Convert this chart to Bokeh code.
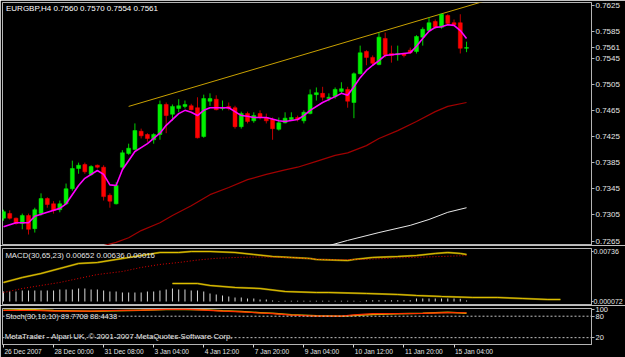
from bokeh.plotting import figure
from bokeh.layouts import column
from bokeh.models import Range1d, FixedTicker, Span, ColumnDataSource, LinearAxis
from bokeh.core.properties import value
from bokeh.embed import file_html
from bokeh.resources import INLINE

# ---------------- data ----------------
title_text = "EURGBP,H4  0.7560 0.7570 0.7554 0.7561"
macd_text = "MACD(30,65,23) 0.00652 0.00636 0.00016"
stoch_text = "Stoch(30,10,10) 89.7708 88.4438"
copyright_text = "MetaTrader - Alpari UK, \u00a9 2001-2007 MetaQuotes Software Corp."
last_price = 0.7561
last_price_label = "0.7561"

opens = [0.7300, 0.7307, 0.7300, 0.7292, 0.7304, 0.7284, 0.7307, 0.7330, 0.7322, 0.7313,
         0.7322, 0.7345, 0.7376, 0.7382, 0.7367, 0.7381, 0.7378, 0.7335, 0.7322, 0.7378,
         0.7399, 0.7405, 0.7433, 0.7428, 0.7420, 0.7428, 0.7474, 0.7459, 0.7468, 0.7471,
         0.7472, 0.7469, 0.7425, 0.7479, 0.7482, 0.7468, 0.7471, 0.7469, 0.7440, 0.7460,
         0.7449, 0.7460, 0.7454, 0.7451, 0.7436, 0.7446, 0.7451, 0.7454, 0.7449, 0.7460,
         0.7489, 0.7491, 0.7483, 0.7486, 0.7494, 0.7497, 0.7477, 0.7521, 0.7555, 0.7546,
         0.7535, 0.7575, 0.7552, 0.7550, 0.7552, 0.7557, 0.7555, 0.7577, 0.7587, 0.7601,
         0.7592, 0.7610, 0.7599, 0.7599, 0.7560]
highs = [0.7313, 0.7312, 0.7301, 0.7307, 0.7307, 0.7316, 0.7338, 0.7332, 0.7326, 0.7327,
         0.7353, 0.7388, 0.7385, 0.7385, 0.7381, 0.7382, 0.7381, 0.7338, 0.7355, 0.7404,
         0.7414, 0.7445, 0.7437, 0.7430, 0.7430, 0.7480, 0.7477, 0.7474, 0.7482, 0.7480,
         0.7475, 0.7485, 0.7489, 0.7491, 0.7488, 0.7480, 0.7477, 0.7472, 0.7463, 0.7463,
         0.7462, 0.7465, 0.7460, 0.7454, 0.7454, 0.7462, 0.7462, 0.7457, 0.7465, 0.7497,
         0.7500, 0.7501, 0.7491, 0.7500, 0.7508, 0.7501, 0.7523, 0.7564, 0.7557, 0.7549,
         0.7584, 0.7584, 0.7564, 0.7564, 0.7553, 0.7561, 0.7580, 0.7592, 0.7607, 0.7604,
         0.7613, 0.7612, 0.7604, 0.7612, 0.7570]
lows = [0.7296, 0.7298, 0.7290, 0.7283, 0.7275, 0.7278, 0.7304, 0.7316, 0.7307, 0.7309,
        0.7321, 0.7342, 0.7368, 0.7368, 0.7365, 0.7376, 0.7327, 0.7316, 0.7321, 0.7373,
        0.7397, 0.7405, 0.7422, 0.7417, 0.7414, 0.7420, 0.7430, 0.7449, 0.7462, 0.7468,
        0.7465, 0.7422, 0.7423, 0.7472, 0.7465, 0.7465, 0.7465, 0.7437, 0.7437, 0.7445,
        0.7446, 0.7451, 0.7445, 0.7420, 0.7434, 0.7445, 0.7449, 0.7448, 0.7445, 0.7459,
        0.7480, 0.7480, 0.7479, 0.7483, 0.7491, 0.7469, 0.7453, 0.7520, 0.7534, 0.7534,
        0.7534, 0.7546, 0.7538, 0.7541, 0.7546, 0.7552, 0.7552, 0.7564, 0.7586, 0.7590,
        0.7590, 0.7596, 0.7594, 0.7552, 0.7554]
closes = [0.7310, 0.7300, 0.7292, 0.7304, 0.7283, 0.7313, 0.7330, 0.7321, 0.7312, 0.7322,
          0.7345, 0.7376, 0.7381, 0.7371, 0.7379, 0.7378, 0.7333, 0.7326, 0.7350, 0.7400,
          0.7407, 0.7434, 0.7426, 0.7422, 0.7428, 0.7474, 0.7457, 0.7471, 0.7472, 0.7474,
          0.7466, 0.7423, 0.7483, 0.7483, 0.7466, 0.7469, 0.7468, 0.7440, 0.7460, 0.7448,
          0.7457, 0.7454, 0.7449, 0.7437, 0.7446, 0.7453, 0.7454, 0.7451, 0.7462, 0.7489,
          0.7492, 0.7485, 0.7485, 0.7497, 0.7498, 0.7479, 0.7521, 0.7553, 0.7546, 0.7537,
          0.7577, 0.7550, 0.7549, 0.7552, 0.7549, 0.7553, 0.7578, 0.7589, 0.7599, 0.7592,
          0.7612, 0.7598, 0.7596, 0.7560, 0.7561]

# fast MA (magenta)
ma_fast_idx = [0, 2, 4, 5, 7, 9, 10, 12, 13, 15, 16, 17, 18, 19, 21, 22, 23, 24, 25, 26,
               28, 29, 30, 31, 32, 33, 36, 37, 38, 39, 40, 42, 44, 45, 47, 48, 49, 51, 53, 54,
               55, 56, 57, 58, 59, 60, 61, 62, 64, 65, 66, 67, 68, 69, 70, 71, 72, 73, 74]
ma_fast_val = [0.7287, 0.7293, 0.7293, 0.7303, 0.7309, 0.7315, 0.7322, 0.7350, 0.7361, 0.7373,
               0.7367, 0.7351, 0.7350, 0.7374, 0.7402, 0.7408, 0.7414, 0.7422, 0.7430, 0.7442,
               0.7460, 0.7465, 0.7462, 0.7457, 0.7465, 0.7469, 0.7469, 0.7463, 0.7457, 0.7456,
               0.7454, 0.7454, 0.7449, 0.7448, 0.7451, 0.7457, 0.7465, 0.7477, 0.7486, 0.7491,
               0.7488, 0.7501, 0.7515, 0.7526, 0.7534, 0.7541, 0.7549, 0.7550, 0.7552, 0.7553,
               0.7563, 0.7575, 0.7586, 0.7592, 0.7593, 0.7596, 0.7595, 0.7587, 0.7575]
# medium MA (dark red)
ma_mid_idx = [12, 16, 18, 20, 22, 25, 27, 30, 33, 36, 39, 42, 45, 47, 50, 53, 55, 58, 60, 63,
              66, 69, 71, 74]
ma_mid_val = [0.7247, 0.7258, 0.7263, 0.7270, 0.7281, 0.7293, 0.7304, 0.7319, 0.7336, 0.7347,
              0.7359, 0.7367, 0.7374, 0.7378, 0.7387, 0.7396, 0.7400, 0.7411, 0.7422, 0.7434,
              0.7448, 0.7463, 0.7471, 0.7477]
# slow MA (white)
ma_slow_idx = [49, 52, 55, 60, 65, 68, 71, 74]
ma_slow_val = [0.7252, 0.7258, 0.7266, 0.7278, 0.7289, 0.7298, 0.7309, 0.7316]
# trend line
trend_idx = [20, 80]
trend_val = [0.7471, 0.7641]

price_ticks = [0.7265, 0.7305, 0.7345, 0.7385, 0.7425, 0.7465, 0.7505, 0.7545, 0.7585, 0.7625]
price_tick_labels = ["0.7265", "0.7305", "0.7345", "0.7385", "0.7425", "0.7465", "0.7505",
                     "0.7545", "0.7585", "0.7625"]

time_tick_idx = [0, 8, 16, 24, 32, 40, 48, 56, 64, 72]
time_tick_labels = ["26 Dec 2007", "28 Dec 00:00", "31 Dec 08:00", "3 Jan 04:00", "4 Jan 12:00",
                    "7 Jan 20:00", "9 Jan 04:00", "10 Jan 12:00", "11 Jan 20:00", "15 Jan 04:00"]

# MACD
macd_idx = [0, 3, 6, 9, 12, 15, 19, 22, 25, 28, 30, 33, 37, 40, 43, 46, 49, 50, 55, 56,
            59, 63, 66, 69, 71, 73, 74]
macd_val = [0.00280, 0.00353, 0.00412, 0.00486, 0.00559, 0.00574, 0.00633, 0.00677, 0.00721,
            0.00721, 0.00736, 0.00736, 0.00721, 0.00692, 0.00662, 0.00648, 0.00633, 0.00618,
            0.00604, 0.00618, 0.00648, 0.00662, 0.00677, 0.00707, 0.00721, 0.00707, 0.00692]
sig_idx = [0, 3, 6, 9, 12, 15, 19, 22, 25, 28, 31, 34, 38, 41, 44, 47, 52, 58, 63, 68, 74]
sig_val = [0.00132, 0.00191, 0.00236, 0.00280, 0.00339, 0.00397, 0.00442, 0.00501, 0.00545,
           0.00574, 0.00610, 0.00636, 0.00651, 0.00655, 0.00650, 0.00640, 0.00614, 0.00620,
           0.00642, 0.00656, 0.00676]
hist_val = [0.00147, 0.00147, 0.00147, 0.00162, 0.00162, 0.00162, 0.00162, 0.00162, 0.00162,
            0.00177, 0.00177, 0.00177, 0.00191, 0.00191, 0.00177, 0.00177, 0.00162, 0.00147,
            0.00147, 0.00132, 0.00132, 0.00132, 0.00132, 0.00147, 0.00147, 0.00162, 0.00177,
            0.00191, 0.00177, 0.00177, 0.00162, 0.00162, 0.00147, 0.00118, 0.00103, 0.00088,
            0.00074, 0.00059, 0.00059, 0.00044, 0.00044, 0.00029, 0.00029, 0.00015, 0.00007,
            0.00012, 0.00012, 0.00012, 0.00012, 0.00012, 0.00012, 0.00012, 0.00012, 0.00012,
            0.00012, 0.00012, 0.00012, 0.00003, 0.00020, 0.00020, 0.00020, 0.00020, 0.00020,
            0.00020, 0.00020, 0.00020, 0.00044, 0.00044, 0.00044, 0.00044, 0.00044, 0.00044,
            0.00044, 0.00040, 0.00016]
lower_idx = [27, 31, 33, 37, 41, 45, 50, 52, 58, 63, 66, 70, 75, 79, 83, 87, 89]
lower_val = [0.00265, 0.00265, 0.00236, 0.00206, 0.00191, 0.00147, 0.00132, 0.00132, 0.00118,
             0.00103, 0.00088, 0.00074, 0.00059, 0.00059, 0.00044, 0.00029, 0.00029]
macd_ticks = [0.0, 0.00736]
macd_tick_labels = ["0.000072", "0.00736"]

# Stochastic
st_main_idx = [0, 5, 8, 14, 17, 22, 26, 29, 32, 35, 38, 41, 43, 46, 50, 54, 56, 59, 67, 71, 74]
st_main_val = [96, 96, 94, 94, 96, 97, 99, 100, 97, 94, 92, 89, 87, 83, 80, 80, 84, 87, 88, 90,
               89.77]
st_sig_idx = [0, 4, 8, 14, 18, 22, 26, 29, 32, 35, 38, 41, 43, 46, 50, 54, 56, 59, 63, 67, 71, 74]
st_sig_val = [97, 99, 96, 94, 95, 97, 99, 99, 98, 95, 93, 90, 88, 84, 81, 80, 82, 85, 87, 88,
              91, 88.44]
stoch_levels = [80, 20]
stoch_ticks = [20, 80, 100]
stoch_tick_labels = ["20", "80", "100"]

# ---------------- styling ----------------
FONT = "Liberation Sans"
BORDER = "#b4b4b4"
LABEL = "#e6e6e6"
X0, X1 = -0.16, 93.97
FRAME_W = 593
PX_PER_BAR = FRAME_W / (X1 - X0)
TIME_FONT_PX = 6.6

n = len(closes)
idx = list(range(n))
xr = Range1d(X0, X1)


def base(fig, size="8px"):
    fig.background_fill_color = "black"
    fig.border_fill_color = "black"
    fig.outline_line_color = BORDER
    fig.grid.visible = False
    ax = fig.yaxis[0]
    ax.axis_line_color = BORDER
    ax.major_tick_line_color = BORDER
    ax.minor_tick_line_color = None
    ax.major_tick_out = 3
    ax.major_tick_in = 0
    ax.major_label_standoff = 1
    ax.major_label_text_color = LABEL
    ax.major_label_text_font = FONT
    ax.major_label_text_font_size = size


# ---- main price panel ----
pm = figure(width=625, height=245, x_range=xr, y_range=Range1d(0.72582, 0.76300),
            x_axis_location=None, y_axis_location="right", output_backend="svg",
            toolbar_location=None, min_border_left=2, min_border_right=30,
            min_border_top=2, min_border_bottom=0)
base(pm)
ticks_all = price_ticks + [last_price]
labels_all = price_tick_labels + [last_price_label]
pm.yaxis[0].ticker = FixedTicker(ticks=ticks_all, minor_ticks=[])
pm.yaxis[0].major_label_overrides = dict(zip(ticks_all, labels_all))

is_up = [c >= o for o, c in zip(opens, closes)]
src = ColumnDataSource(dict(
    x=idx, high=highs, low=lows,
    top=[max(o, c) for o, c in zip(opens, closes)],
    bottom=[min(o, c) for o, c in zip(opens, closes)],
    body=["#00f000" if u else "#ff0000" for u in is_up],
    wick=["#00d000" if u else "#c00000" for u in is_up],
))
pm.line(trend_idx, trend_val, line_color="#c8a000", line_width=1)
pm.line(ma_slow_idx, ma_slow_val, line_color="#e8e8e8", line_width=1)
pm.line(ma_mid_idx, ma_mid_val, line_color="#a00000", line_width=1.2)
pm.segment(x0="x", y0="low", x1="x", y1="high", line_color="wick", line_width=1, source=src)
pm.vbar(x="x", width=0.63, top="top", bottom="bottom", fill_color="body",
        line_color="body", line_width=0.5, source=src)
pm.line(ma_fast_idx, ma_fast_val, line_color="#ff00ff", line_width=1.6)
pm.text(x=[0.4], y=[0.76212], text=[title_text], text_font=value(FONT),
        text_font_size="8px", text_color="white", text_baseline="middle")

# ---- MACD panel ----
pd_ = figure(width=625, height=60, x_range=xr, y_range=Range1d(-0.00059, 0.00780),
             x_axis_location=None, y_axis_location="right", output_backend="svg",
             toolbar_location=None, min_border_left=2, min_border_right=30,
             min_border_top=3, min_border_bottom=0)
base(pd_, "7px")
pd_.yaxis[0].ticker = FixedTicker(ticks=macd_ticks, minor_ticks=[])
pd_.yaxis[0].major_label_overrides = dict(zip(macd_ticks, macd_tick_labels))
pd_.yaxis[0].major_label_standoff = 0
pd_.yaxis[0].major_tick_out = 2
pd_.vbar(x=idx, width=0.16, top=hist_val, bottom=0, fill_color="#d8d8d8", line_color=None)
pd_.line(lower_idx, lower_val, line_color="#7a6a00", line_width=2)
pd_.line(lower_idx, lower_val, line_color="#e0c000", line_width=1)
pd_.line(macd_idx, macd_val, line_color="#7a6a00", line_width=2)
pd_.line(macd_idx, macd_val, line_color="#e0c000", line_width=1)
pd_.line(sig_idx, sig_val, line_color="#e00000", line_width=1, line_dash="1 2")
pd_.text(x=[0.3], y=[0.00677], text=[macd_text], text_font=value(FONT),
         text_font_size="7.8px", text_color=LABEL, text_baseline="middle")

# ---- Stochastic panel ----
ps = figure(width=625, height=52, x_range=xr, y_range=Range1d(0.8, 101.6),
            x_axis_location=None, y_axis_location="right", output_backend="svg",
            toolbar_location=None, min_border_left=2, min_border_right=30,
            min_border_top=3, min_border_bottom=12)
base(ps, "7.5px")
ps.yaxis[0].ticker = FixedTicker(ticks=stoch_ticks, minor_ticks=[])
ps.yaxis[0].major_label_overrides = dict(zip(stoch_ticks, stoch_tick_labels))
ps.text(x=[0.3], y=[80], text=[stoch_text], text_font=value(FONT),
        text_font_size="7.5px", text_color=LABEL, text_baseline="middle")
ps.text(x=[0.2], y=[24], text=[copyright_text], text_font=value(FONT),
        text_font_size="7.8px", text_color=LABEL, text_baseline="middle")
for lv in stoch_levels:
    ps.add_layout(Span(location=lv, dimension="width", line_color="#c0c0c0",
                       line_dash="2 2", line_width=1))
ps.line(st_sig_idx, st_sig_val, line_color="#d4b000", line_width=1.5)
ps.line(st_main_idx, st_main_val, line_color="#ff3000", line_width=1.2)

# time axis: one axis for the tick marks, one for left-aligned labels
tick_axis = LinearAxis(ticker=FixedTicker(ticks=time_tick_idx, minor_ticks=[]),
                       major_label_overrides={t: "" for t in time_tick_idx},
                       axis_line_color=BORDER, major_tick_line_color="#d0d0d0",
                       minor_tick_line_color=None, major_tick_out=3, major_tick_in=0,
                       major_label_standoff=0, major_label_text_font_size="1px")
ps.add_layout(tick_axis, "below")

# approximate glyph advance widths (em) of the label font, for left-aligning labels
_w = {" ": 0.278, ":": 0.278, "D": 0.722, "J": 0.5, "a": 0.556, "c": 0.5, "e": 0.556, "n": 0.556}


def text_width_px(s):
    return sum(_w.get(ch, 0.556) for ch in s) * TIME_FONT_PX


label_pos = [t + (text_width_px(s) / 2 + 1.0) / PX_PER_BAR
             for t, s in zip(time_tick_idx, time_tick_labels)]
label_axis = LinearAxis(ticker=FixedTicker(ticks=label_pos, minor_ticks=[]),
                        major_label_overrides=dict(zip(label_pos, time_tick_labels)),
                        axis_line_color=None, major_tick_line_color=None,
                        minor_tick_line_color=None, major_tick_out=0, major_tick_in=0,
                        major_label_standoff=0, major_label_text_color=LABEL,
                        major_label_text_font=FONT,
                        major_label_text_font_size=f"{TIME_FONT_PX}px")
ps.add_layout(label_axis, "below")

layout = column(pm, pd_, ps, spacing=0)
open("out.html", "w").write(file_html(layout, INLINE))
